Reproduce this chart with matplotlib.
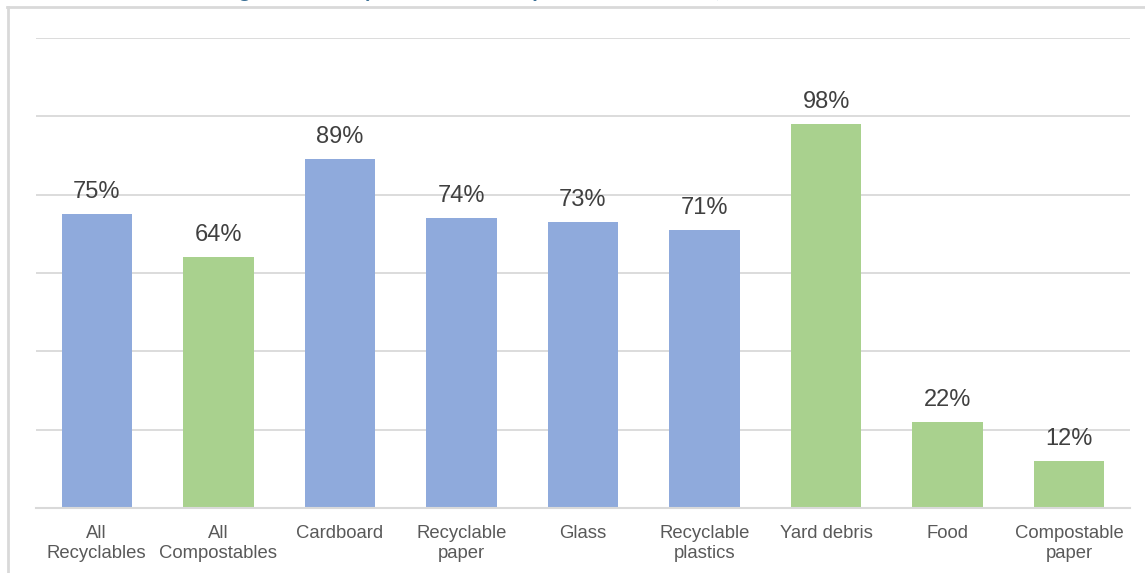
import matplotlib.pyplot as plt
from matplotlib.lines import Line2D

categories = ["All\nRecyclables", "All\nCompostables", "Cardboard", "Recyclable\npaper",
              "Glass", "Recyclable\nplastics", "Yard debris", "Food", "Compostable\npaper"]
rates = [75, 64, 89, 74, 73, 71, 98, 22, 12]
groups = ["rec", "comp", "rec", "rec", "rec", "rec", "comp", "comp", "comp"]

colors = {"rec": "#8FAADC", "comp": "#A9D18E"}
grid_gray = "#D9D9D9"

fig = plt.figure(figsize=(11.45, 5.73), dpi=100)
W, H = 1145, 573

# chart frame (only top and left edges fall inside the canvas)
fig.add_artist(Line2D([7 / W, 1.0], [1 - 7 / H, 1 - 7 / H], color=grid_gray, lw=2,
                      transform=fig.transFigure))
fig.add_artist(Line2D([8 / W, 8 / W], [0, 1 - 7 / H], color=grid_gray, lw=2,
                      transform=fig.transFigure))

# title sits above the visible area; only its descenders show
fig.text(150 / W, 1 + 3 / H, "Percentage of the recyclables and compostables diverted, 2018",
         fontsize=16, fontweight="bold", color="#3A6F95", family="Lato",
         ha="left", va="baseline")

ax = fig.add_axes([36 / W, (H - 508) / H, 1094 / W, 470 / H])
x = range(len(categories))
bars = ax.bar(x, rates, width=0.58, color=[colors[g] for g in groups], zorder=2)

for b, v in zip(bars, rates):
    ax.annotate(f"{v}%", (b.get_x() + b.get_width() / 2, v), xytext=(0, 8),
                textcoords="offset points", ha="center", va="bottom",
                fontsize=17, color="#404040", family="Liberation Sans")

ax.set_xlim(-0.5, len(categories) - 0.5)
ax.set_ylim(0, 120)
ax.set_yticks(range(0, 121, 20))
ax.set_yticklabels([])
ax.grid(axis="y", color=grid_gray, lw=1.3, zorder=0)
ax.tick_params(axis="y", length=0)
ax.set_xticks(list(x))
ax.set_xticklabels(categories, fontsize=13.3, color="#595959", family="Liberation Sans",
                   linespacing=1.25)
ax.tick_params(axis="x", length=0, pad=12)
for s in ["top", "left", "right"]:
    ax.spines[s].set_visible(False)
ax.spines["bottom"].set_color(grid_gray)
ax.spines["bottom"].set_linewidth(1.5)

fig.savefig("out.png", dpi=100)
